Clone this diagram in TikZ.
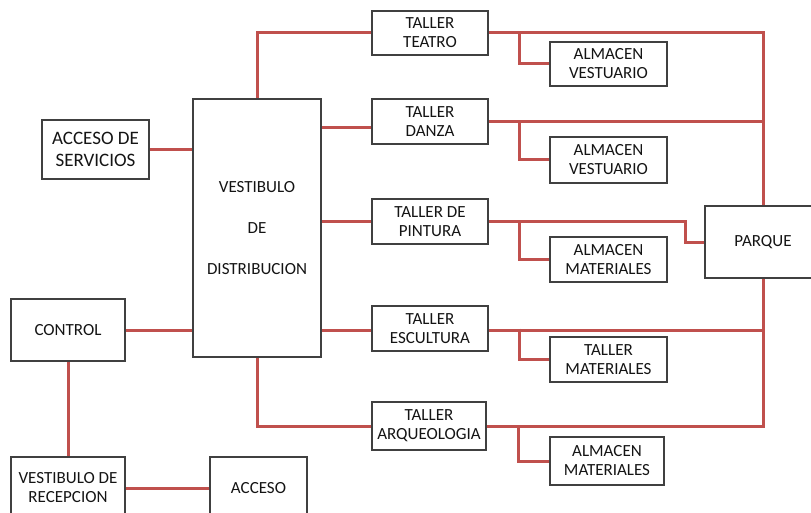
\documentclass[tikz,border=0pt]{standalone}
\usepackage{fontspec}
\setmainfont{Carlito}
\usepackage{xcolor}
\usepackage{tikz}
\usetikzlibrary{backgrounds}
\definecolor{linkRed}{RGB}{192, 80, 77}
\definecolor{boxGray}{RGB}{64, 64, 64}
\definecolor{textDark}{RGB}{20, 20, 20}

\begin{document}
\begin{tikzpicture}[
    x=1pt, y=-1pt,
    roombox/.style={
        rectangle,
        draw=boxGray,
        line width=1.2pt,
        fill=white,
        inner sep=0pt,
        align=center,
        text=textDark,
        font=\fontsize{17}{19}\selectfont,
        minimum width=116pt,
        minimum height=45pt
    },
    smallbox/.style={
        roombox,
        minimum width=117pt
    },
    link/.style={
        draw=linkRed,
        line width=3pt
    }
]

% Frame
\useasboundingbox (0,0) rectangle (811,513);
\clip (0,0) rectangle (811,513);

% Entrance side
\node[roombox, minimum width=107pt, minimum height=59pt,
      font=\fontsize{19}{22}\selectfont] (serv) at (95.5,149.5) {ACCESO DE\\SERVICIOS};
\node[roombox, minimum width=128pt, minimum height=258pt] (vdist) at (257,228)
    {VESTIBULO\\[22pt]DE\\[22pt]DISTRIBUCION};
\node[roombox, minimum width=114pt, minimum height=62pt] (control) at (68,330) {CONTROL};
\node[roombox, minimum width=114pt, minimum height=62pt] (vrec) at (68,488) {VESTIBULO DE\\RECEPCION};
\node[roombox, minimum width=97pt, minimum height=62pt] (acceso) at (258.5,488) {ACCESO};

% Workshops
\node[roombox, minimum height=44pt] (teatro) at (430,33) {TALLER\\TEATRO};
\node[roombox] (danza) at (430,121.5) {TALLER\\DANZA};
\node[roombox] (pintura) at (430,221.5) {TALLER DE\\PINTURA};
\node[roombox] (escultura) at (430,328.5) {TALLER\\ESCULTURA};
\node[roombox, minimum width=114pt, minimum height=48pt] (arqueo) at (429,426) {TALLER\\ARQUEOLOGIA};

% Storage rooms
\node[smallbox, minimum height=44pt] (almA) at (608.5,64) {ALMACEN\\VESTUARIO};
\node[smallbox, minimum height=46pt] (almB) at (608.5,160) {ALMACEN\\VESTUARIO};
\node[smallbox] (almC) at (608.5,259.5) {ALMACEN\\MATERIALES};
\node[smallbox] (tmat) at (608.5,359.5) {TALLER\\MATERIALES};
\node[smallbox, minimum width=114pt, minimum height=48pt] (almD) at (607,461) {ALMACEN\\MATERIALES};

% Park
\node[roombox, minimum width=116pt, minimum height=72pt] (parque) at (763,242) {PARQUE};

% Links
\begin{scope}[on background layer]
\draw[link] (serv.east) -- (serv.east -| vdist.west);
\draw[link] (control.east) -- (control.east -| vdist.west);
\draw[link] (control.south) -- (vrec.north);
\draw[link] (vrec.east) -- (vrec.east -| acceso.west);

\draw[link] (vdist.north) |- (teatro.west);
\draw[link] ([yshift=-6pt]danza.west) -- ([yshift=-6pt]danza.west -| vdist.east);
\draw[link] (pintura.west) -- (pintura.west -| vdist.east);
\draw[link] ([yshift=-1.5pt]escultura.west) -- ([yshift=-1.5pt]escultura.west -| vdist.east);
\draw[link] (vdist.south) |- (arqueo.west);

\draw[link] (teatro.east) -| (parque.north);
\draw[link] (danza.east) -- (danza.east -| parque.north);
\draw[link] (pintura.east) -- ++(197,0) |- (parque.west);
\draw[link] ([yshift=-1.5pt]escultura.east) -- ([yshift=-1.5pt]escultura.east -| parque.south);
\draw[link] (arqueo.east) -| (parque.south);

\draw[link] ([xshift=31pt]teatro.east) |- (almA.west);
\draw[link] ([xshift=31pt]danza.east) |- (almB.west);
\draw[link] ([xshift=31pt]pintura.east) |- (almC.west);
\draw[link] ([xshift=31pt]escultura.east) |- (tmat.west);
\draw[link] ([xshift=32pt]arqueo.east) |- (almD.west);
\end{scope}

\end{tikzpicture}
\end{document}
